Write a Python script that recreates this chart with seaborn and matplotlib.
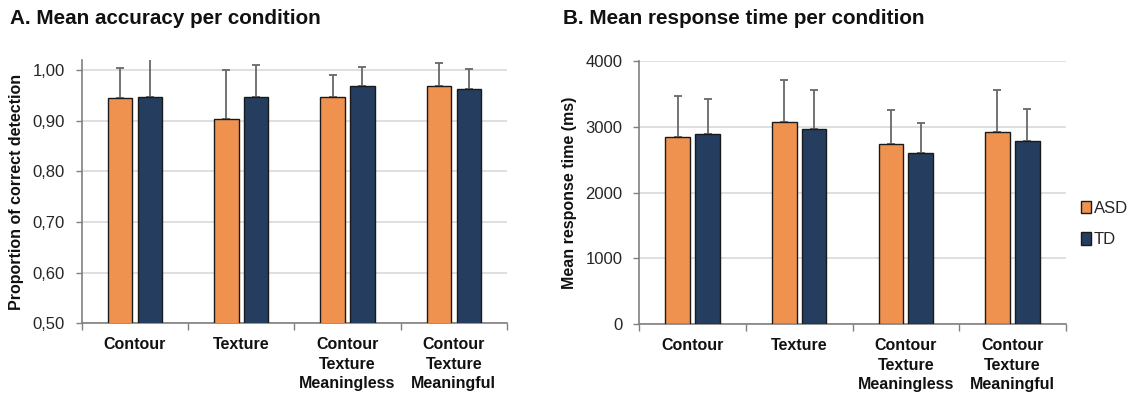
import numpy as np
import pandas as pd
import matplotlib
matplotlib.use("Agg")
import matplotlib.pyplot as plt
from matplotlib.patches import Patch
import seaborn as sns

# ---- data ----
conditions = ["Contour", "Texture", "Contour\nTexture\nMeaningless", "Contour\nTexture\nMeaningful"]
groups = ["ASD", "TD"]
acc_asd = [0.944, 0.903, 0.947, 0.968]
acc_td = [0.947, 0.947, 0.968, 0.963]
acc_sd_asd = [0.060, 0.098, 0.043, 0.046]
acc_sd_td = [0.075, 0.064, 0.039, 0.040]
rt_asd = [2838, 3076, 2737, 2914]
rt_td = [2889, 2960, 2601, 2788]
rt_sd_asd = [627, 636, 521, 642]
rt_sd_td = [530, 596, 464, 480]
acc_ticks = [0.50, 0.60, 0.70, 0.80, 0.90, 1.00]
acc_ticklabels = ["0,50", "0,60", "0,70", "0,80", "0,90", "1,00"]
rt_ticks = [0, 1000, 2000, 3000, 4000]
rt_ticklabels = ["0", "1000", "2000", "3000", "4000"]

sns.set_theme(style="white")
plt.rcParams["font.family"] = ["Liberation Sans", "DejaVu Sans"]

colors = {"ASD": "#F0924F", "TD": "#253D5E"}

def make_df(a, b, sa, sb):
    return pd.DataFrame({
        "condition": conditions * 2,
        "group": ["ASD"] * 4 + ["TD"] * 4,
        "value": list(a) + list(b),
        "sd": list(sa) + list(sb),
    })

W, H = 1137, 397
fig = plt.figure(figsize=(W / 100, H / 100), dpi=100)
axA = fig.add_axes([81.7 / W, 1 - 323.3 / H, (507.0 - 81.7) / W, (323.3 - 60.0) / H])
axB = fig.add_axes([639.3 / W, 1 - 324.3 / H, (1065.7 - 639.3) / W, (324.3 - 61.0) / H])

def draw(ax, df, ylim, ticks, ticklabels, ylabel):
    sns.barplot(data=df, x="condition", y="value", hue="group", order=conditions,
                hue_order=groups, palette=colors, saturation=1, width=0.56, gap=0.18,
                errorbar=None, edgecolor="#1a1a1a", linewidth=1.0, ax=ax,
                legend=False, zorder=3)
    bars = list(ax.patches)
    for gi, g in enumerate(groups):
        sub = df[df.group == g].set_index("condition").loc[conditions]
        for ci in range(len(conditions)):
            p = bars[gi * len(conditions) + ci]
            xc = p.get_x() + p.get_width() / 2
            ax.errorbar(xc, sub["value"].iloc[ci], yerr=[[0], [sub["sd"].iloc[ci]]],
                        fmt="none", ecolor="#686868", elinewidth=1.3, capsize=2.8,
                        capthick=1.3, zorder=2)
    ax.set_ylim(*ylim)
    ax.set_xlim(-0.5, len(conditions) - 0.5)
    ax.set_yticks(ticks)
    ax.set_yticklabels(ticklabels, fontsize=12, color="#262626")
    ax.yaxis.grid(True, color="#d9d9d9", linewidth=1.2, zorder=0)
    ax.set_axisbelow(True)
    ax.set_xticks(np.arange(-0.5, len(conditions)), labels=[""] * (len(conditions) + 1))
    ax.set_xticks(np.arange(len(conditions)), minor=True)
    ax.set_xticklabels(conditions, minor=True, fontsize=11.5, fontweight="bold",
                       color="#111111", linespacing=1.38, va="top")
    ax.tick_params(axis="x", which="major", length=5, width=1, color="#808080", bottom=True)
    ax.tick_params(axis="x", which="minor", length=0, pad=10)
    ax.tick_params(axis="y", which="major", length=4, width=1, color="#808080", left=True, pad=8)
    for s in ["top", "right"]:
        ax.spines[s].set_visible(False)
    for s in ["left", "bottom"]:
        ax.spines[s].set_color("#808080")
        ax.spines[s].set_linewidth(1.2)
    ax.set_xlabel("")
    ax.set_ylabel(ylabel, fontsize=11.5, fontweight="bold", color="#111111", labelpad=6)

draw(axA, make_df(acc_asd, acc_td, acc_sd_asd, acc_sd_td), (0.5, 1.02), acc_ticks,
     acc_ticklabels, "Proportion of correct detection")
draw(axB, make_df(rt_asd, rt_td, rt_sd_asd, rt_sd_td), (0, 4000), rt_ticks,
     rt_ticklabels, "Mean response time (ms)")

fig.text(10 / W, 1 - 19 / H, "A. Mean accuracy per condition", fontsize=14.9,
         fontweight="bold", color="#111111", va="center", ha="left")
fig.text(563 / W, 1 - 19 / H, "B. Mean response time per condition", fontsize=14.9,
         fontweight="bold", color="#111111", va="center", ha="left")

handles = [Patch(facecolor=colors[g], edgecolor="#1a1a1a", linewidth=1.0, label=g) for g in groups]
fig.legend(handles=handles, loc="center left", bbox_to_anchor=(1074 / W, 1 - 224 / H),
           frameon=False, fontsize=12, handlelength=0.6, handleheight=0.75,
           handletextpad=0.2, labelspacing=1.0, borderpad=0.2, borderaxespad=0.2)

fig.savefig("out.png", dpi=100)
